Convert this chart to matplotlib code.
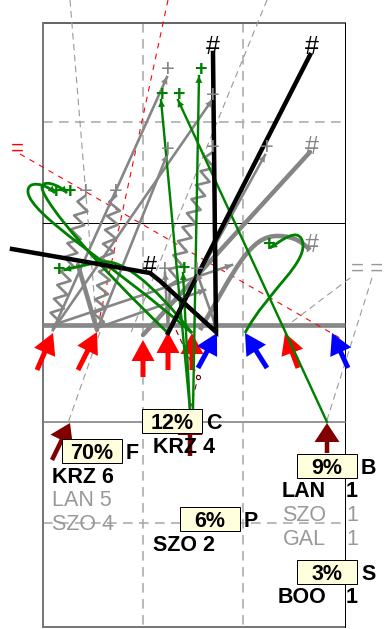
import numpy as np
import matplotlib
matplotlib.use("Agg")
import matplotlib.pyplot as plt
from matplotlib.path import Path
from matplotlib.patches import PathPatch, Rectangle

plt.rcParams['font.family'] = ['Liberation Sans', 'DejaVu Sans']

# players (tail -> tip), pixel coordinates of the pitch
red_players = [((37, 370), (53, 333)), ((78, 370), (97, 332)), ((143, 377), (143, 340)),
               ((168, 370), (168, 332)), ((192, 370), (192, 333)), ((298, 368), (285, 333))]
blue_players = [((198, 368), (217, 333)), ((267, 368), (245, 333)), ((348, 368), (332, 333))]
dark_players = [((52, 460), (70, 423)), ((190, 456), (190, 416)), ((327, 453), (327, 423))]

# passes / runs
gray_passes = [[(53, 330), (167, 77)], [(53, 330), (212, 100)], [(97, 330), (167, 155)],
               [(168, 330), (265, 155)], [(168, 330), (165, 273)], [(217, 330), (197, 273)],
               [(53, 325), (232, 265)], [(97, 328), (205, 290)]]
gray_thick = [[(143, 335), (310, 152)], [(97, 330), (78, 265)]]
gray_thick_curves = [[(200, 330), (235, 270), (250, 235), (278, 236), (295, 236), (303, 243), (310, 250)]]
dribbles = [[(53, 328), (85, 196)], [(97, 328), (116, 196)], [(170, 285), (213, 152)]]
dribble_feed = [[(168, 330), (170, 285)]]
black_runs = [[(12, 249), (150, 273), (160, 281), (216, 332), (213, 53)], [(168, 333), (310, 55)]]
green_lines = [[(190, 410), (161, 100)], [(193, 410), (199, 76)], [(327, 422), (178, 100)],
               [(190, 410), (183, 273)]]
green_curves = [[(192, 333), (110, 262), (30, 215), (28, 192), (27, 180), (45, 183), (55, 193)],
                [(168, 333), (100, 268), (45, 205), (42, 188), (42, 179), (58, 184), (67, 193)],
                [(245, 333), (268, 290), (310, 262), (302, 240), (297, 228), (282, 240), (270, 248)],
                [(192, 333), (150, 280), (120, 258), (100, 262), (85, 265), (72, 268), (64, 270)]]

gray_plus = [(168, 68), (213, 93), (168, 147), (267, 146), (165, 267), (197, 267), (86, 190), (116, 190), (213, 146)]
green_plus = [(161, 93), (178, 93), (200, 68), (55, 190), (69, 190), (58, 268), (268, 243), (183, 267)]
gray_hash = [(312, 145), (312, 242)]
black_hash = [(150, 265), (213, 45), (312, 45)]

# ball trajectories
gray_dashed = [[(70, 0), (97, 330)], [(267, 0), (130, 335)], [(100, 332), (68, 423)],
               [(350, 278), (288, 325)], [(372, 278), (327, 420)]]
red_dashed = [[(168, 0), (96, 335)], [(20, 154), (340, 338)]]
dark_dashed = [[(176, 330), (198, 377), (188, 418)]]

# percentage boxes: value, letter, left, top
boxes = [("12%", "C", 142, 409), ("70%", "F", 62, 439), ("6%", "P", 180, 507),
         ("9%", "B", 297, 454), ("3%", "S", 297, 560)]
names_left = [("KRZ 6", 52, 483, "black"), ("LAN 5", 52, 506, "#999999"), ("SZO 4", 52, 530, "#999999"),
              ("KRZ 4", 153, 453, "black"), ("SZO 2", 153, 551, "black")]
names_right = [("LAN", "1", 497, "black"), ("SZO", "1", 521, "#999999"),
               ("GAL", "1", 545, "#999999"), ("BOO", "1", 603, "black")]

PX = 72 / 100  # points per pixel
GRAY = "#858585"


def zigzag(p0, p1, step=7.0, amp=6.0):
    p0, p1 = np.array(p0, float), np.array(p1, float)
    d = p1 - p0
    L = np.hypot(*d)
    n = max(int(L // step), 2)
    u = d / L
    perp = np.array([-u[1], u[0]])
    pts = [p0]
    for i in range(1, n):
        s = 1 if i % 2 else -1
        pts.append(p0 + d * i / n + perp * amp * s)
    pts.append(p1)
    return np.array(pts)


def head(ax, p_from, p_to, color, size=12):
    ax.annotate("", xy=p_to, xytext=p_from,
                arrowprops=dict(arrowstyle="-|>", color=color, lw=0.1, mutation_scale=size,
                                shrinkA=0, shrinkB=0), zorder=6)


def bezier(pts):
    codes = [Path.MOVETO] + [Path.CURVE4] * (len(pts) - 1)
    return Path(pts, codes)


fig = plt.figure(figsize=(3.84, 6.29), dpi=100)
ax = fig.add_axes([0, 0, 1, 1])
ax.set_xlim(0, 384)
ax.set_ylim(629, 0)
ax.axis("off")

# pitch
ax.plot([43, 345], [23, 23], color="#666666", lw=2 * PX, zorder=2)
ax.plot([43, 43], [23, 627], color="#777777", lw=2 * PX, zorder=2)
ax.plot([43, 345], [627, 627], color="#777777", lw=2 * PX, zorder=2)
ax.plot([345, 345], [23, 627], color="black", lw=1 * PX, zorder=2)
ax.plot([43, 345], [223, 223], color="black", lw=1 * PX, zorder=2)
ax.plot([43, 345], [422, 422], color="#777777", lw=1.5 * PX, zorder=2)
for x in (143, 243):
    ax.plot([x, x], [23, 627], color="#aaaaaa", lw=1.6 * PX, ls=(0, (6, 4)), zorder=1)
for y in (122, 523):
    ax.plot([43, 345], [y, y], color="#aaaaaa", lw=1.6 * PX, ls=(0, (6, 4)), zorder=1)
ax.plot([43, 345], [325, 325], color="#888888", lw=4.7 * PX, solid_capstyle="butt", zorder=2)

# trajectories
for seg in gray_dashed:
    xs, ys = zip(*seg)
    ax.plot(xs, ys, color="#999999", lw=1.1 * PX, ls=(0, (6, 4)), zorder=3)
for seg in red_dashed:
    xs, ys = zip(*seg)
    ax.plot(xs, ys, color="red", lw=1.1 * PX, ls=(0, (5, 5)), zorder=3)
for seg in dark_dashed:
    xs, ys = zip(*seg)
    ax.plot(xs, ys, color="#800000", lw=1.1 * PX, ls=(0, (5, 4)), zorder=3)
    ax.plot(seg[1][0], seg[1][1], "o", mfc="white", mec="#800000", ms=3, mew=0.8, zorder=3)

# players
for (t, h) in red_players:
    ax.arrow(t[0], t[1], h[0] - t[0], h[1] - t[1], width=5, head_width=23, head_length=21,
             length_includes_head=True, color="red", lw=0, zorder=4)
for (t, h) in blue_players:
    ax.arrow(t[0], t[1], h[0] - t[0], h[1] - t[1], width=5, head_width=23, head_length=21,
             length_includes_head=True, color="blue", lw=0, zorder=4)
for (t, h) in dark_players:
    ax.arrow(t[0], t[1], h[0] - t[0], h[1] - t[1], width=4.5, head_width=25, head_length=19,
             length_includes_head=True, color="#800000", lw=0, zorder=4)

# runs and passes
for seg in gray_passes:
    xs, ys = zip(*seg)
    ax.plot(xs, ys, color=GRAY, lw=2.6 * PX, zorder=5)
    head(ax, seg[-2], seg[-1], GRAY)
for seg in gray_thick:
    xs, ys = zip(*seg)
    ax.plot(xs, ys, color=GRAY, lw=4.5 * PX, zorder=5, solid_capstyle="round")
for pts in gray_thick_curves:
    ax.add_patch(PathPatch(bezier(pts), fc="none", ec=GRAY, lw=4.5 * PX, zorder=5))
for seg in dribble_feed:
    xs, ys = zip(*seg)
    ax.plot(xs, ys, color=GRAY, lw=2.6 * PX, zorder=5)
for seg in dribbles:
    z = zigzag(*seg)
    ax.plot(z[:, 0], z[:, 1], color=GRAY, lw=2.6 * PX, zorder=5)
for seg in green_lines:
    xs, ys = zip(*seg)
    ax.plot(xs, ys, color="green", lw=2.4 * PX, zorder=5)
    head(ax, seg[-2], seg[-1], "green")
for pts in green_curves:
    ax.add_patch(PathPatch(bezier(pts), fc="none", ec="green", lw=2.8 * PX, zorder=5))
    head(ax, pts[-2], pts[-1], "green")
for seg in black_runs:
    xs, ys = zip(*seg)
    ax.plot(xs, ys, color="black", lw=4.5 * PX, zorder=5, solid_joinstyle="miter")

for (x, y) in gray_plus:
    ax.text(x, y, "+", color=GRAY, fontsize=17, ha="center", va="center_baseline", zorder=7)
for (x, y) in green_plus:
    ax.text(x, y, "+", color="green", fontsize=15.5, fontweight="bold", ha="center",
            va="center_baseline", zorder=7)
for (x, y) in gray_hash:
    ax.text(x, y, "#", color=GRAY, fontsize=18, ha="center", va="center_baseline", zorder=7)
for (x, y) in black_hash:
    ax.text(x, y, "#", color="black", fontsize=18, ha="center", va="center_baseline", zorder=7)

ax.text(17, 147, "=", color="red", fontsize=16, ha="center", va="center_baseline", zorder=7)
ax.text(367, 267, "= =", color="#999999", fontsize=16, ha="center", va="center_baseline", zorder=7)

# percentage boxes and player lists
for (val, letter, x0, y0) in boxes:
    ax.add_patch(Rectangle((x0, y0), 60, 24, fc="#ffffdd", ec="black", lw=1 * PX, zorder=8))
    ax.text(x0 + 30, y0 + 12, val, fontsize=15.5, fontweight="bold", ha="center",
            va="center_baseline", zorder=9)
    ax.text(x0 + 64, y0 + 12, letter, fontsize=15.5, fontweight="bold", ha="left",
            va="center_baseline", zorder=9)
for (txt, x, y, c) in names_left:
    ax.text(x, y, txt, fontsize=15.5, color=c, fontweight="bold" if c == "black" else "normal",
            ha="left", va="baseline", zorder=9)
for (nm, num, y, c) in names_right:
    w = "bold" if c == "black" else "normal"
    ax.text(326, y, nm, fontsize=15.5, color=c, fontweight=w, ha="right", va="baseline", zorder=9)
    ax.text(346, y, num, fontsize=15.5, color=c, fontweight=w, ha="left", va="baseline", zorder=9)

fig.savefig("out.png", dpi=100)
